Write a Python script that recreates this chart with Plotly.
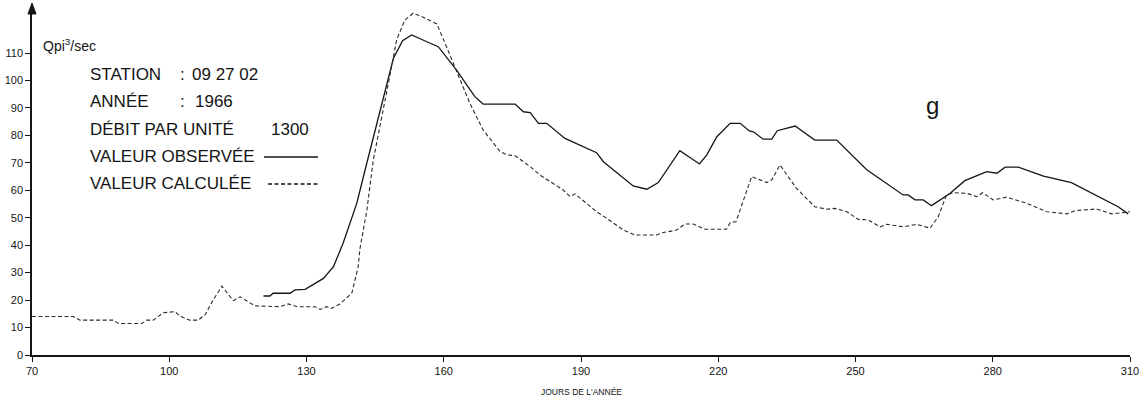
import plotly.graph_objects as go

# ---- data ----
obs_day = [120.6, 122.0, 122.7, 126.4, 127.5, 129.7, 133.7, 135.9, 138.0, 141.0, 142.8,
           149.0, 151.0, 153.0, 156.3, 158.8, 162.8, 165.4, 166.8, 168.6, 175.6, 177.4,
           178.9, 180.7, 182.5, 186.5, 193.4, 194.9, 201.4, 204.4, 206.9, 211.6, 215.9,
           217.5, 219.7, 222.6, 224.8, 226.8, 227.7, 229.8, 231.7, 232.9, 236.8, 241.1,
           245.9, 252.4, 260.4, 261.5, 263.0, 264.8, 266.6, 270.7, 273.9, 278.7, 280.9,
           282.7, 285.6, 291.1, 297.2, 307.4, 309.6]
obs_val = [21.5, 21.5, 22.5, 22.5, 23.7, 23.9, 27.9, 32.2, 40.7, 55.3, 67.4,
           108.1, 114.5, 116.6, 114.1, 112.3, 103.8, 97.7, 94.1, 91.4, 91.4, 88.6,
           88.3, 84.4, 84.4, 78.9, 73.7, 70.4, 61.6, 60.4, 62.8, 74.4, 69.6,
           72.9, 79.5, 84.4, 84.4, 81.6, 81.3, 78.6, 78.6, 81.7, 83.4, 78.3,
           78.3, 67.6, 58.3, 58.3, 56.5, 56.5, 54.4, 58.9, 63.5, 66.8, 66.2,
           68.4, 68.4, 65.2, 62.8, 54.0, 51.4]

calc_day = [70.0, 79.0, 80.5, 87.8, 88.9, 94.0, 95.1, 96.5, 98.7, 101.3, 102.3, 104.5,
            106.3, 107.8, 109.6, 111.5, 114.0, 115.5, 118.7, 124.2, 126.0, 127.9, 131.9,
            133.0, 134.3, 135.5, 137.3, 139.9, 141.3, 141.7, 143.2, 144.6, 147.9, 149.7,
            151.5, 153.3, 155.2, 158.5, 160.6, 162.8, 165.7, 168.6, 172.3, 173.8, 175.6,
            178.9, 181.0, 186.1, 187.6, 188.7, 191.2, 193.4, 195.6, 199.3, 201.8, 206.5,
            208.0, 210.9, 212.7, 214.5, 217.1, 221.8, 222.6, 223.9, 227.3, 230.6, 231.7,
            233.5, 237.1, 241.1, 243.7, 245.5, 248.1, 250.6, 252.8, 255.4, 256.8, 260.5,
            263.4, 266.3, 268.1, 269.9, 271.4, 274.3, 276.5, 277.8, 280.1, 283.0, 287.4,
            291.8, 296.2, 298.0, 302.7, 306.0, 310.0]
calc_val = [14.0, 14.0, 12.7, 12.7, 11.5, 11.5, 12.7, 12.7, 15.4, 15.8, 14.2, 12.7,
            12.7, 14.6, 20.0, 25.1, 19.8, 21.2, 17.9, 17.6, 18.6, 17.6, 17.6,
            16.6, 17.6, 17.0, 18.6, 22.5, 32.2, 38.9, 52.8, 71.0, 99.0, 114.8,
            122.0, 124.5, 123.3, 120.6, 112.3, 103.2, 91.7, 82.0, 74.1, 72.9, 72.6,
            68.6, 65.6, 60.1, 57.7, 58.7, 55.3, 52.2, 49.8, 45.5, 43.7, 43.7,
            44.6, 45.5, 47.7, 47.7, 45.8, 45.8, 48.2, 48.6, 65.0, 62.8, 63.8,
            69.2, 60.7, 54.0, 53.1, 53.4, 52.2, 49.4, 49.2, 46.7, 47.6, 46.7,
            47.6, 46.2, 50.4, 58.3, 59.1, 58.9, 57.7, 59.1, 56.5, 57.5, 55.3,
            52.2, 51.4, 52.6, 53.2, 51.4, 52.2]

x_ticks = [70, 100, 130, 160, 190, 220, 250, 280, 310]
y_ticks = [0, 10, 20, 30, 40, 50, 60, 70, 80, 90, 100, 110]

unit_label = "Qpi<sup>3</sup>/sec"
info_labels = ["STATION", "ANNÉE", "DÉBIT PAR UNITÉ", "VALEUR OBSERVÉE", "VALEUR CALCULÉE"]
info_values = ["09 27 02", "1966", "1300"]
panel_label = "g"
x_title = "JOURS DE L'ANNÉE"

W, H = 1147, 403
ML, MR, MT, MB = 32, 17, 8, 48
PW, PH = W - ML - MR, H - MT - MB


def px(x):
    return (x - ML) / PW


def py(y):
    return (H - MB - y) / PH


FONT = "Liberation Sans, Arial, sans-serif"
INK = "#151515"

fig = go.Figure()
fig.add_trace(go.Scatter(x=obs_day, y=obs_val, mode="lines", name="VALEUR OBSERVÉE",
                         line=dict(color=INK, width=1.3)))
fig.add_trace(go.Scatter(x=calc_day, y=calc_val, mode="lines", name="VALEUR CALCULÉE",
                         line=dict(color="#2a2a2a", width=1.1, dash="4px,2.5px")))

ann = []
ann.append(dict(x=px(41), y=py(45), text=unit_label, font=dict(size=14)))
rows_y = [74, 102, 129, 156, 183]
for lab, yy in zip(info_labels, rows_y):
    ann.append(dict(x=px(88), y=py(yy), text=lab, font=dict(size=17)))
ann.append(dict(x=px(178), y=py(74), text=":", font=dict(size=17)))
ann.append(dict(x=px(178), y=py(102), text=":", font=dict(size=17)))
ann.append(dict(x=px(190), y=py(74), text=info_values[0], font=dict(size=17)))
ann.append(dict(x=px(193), y=py(102), text=info_values[1], font=dict(size=17)))
ann.append(dict(x=px(269), y=py(129), text=info_values[2], font=dict(size=17)))
ann.append(dict(x=px(924), y=py(106), text=panel_label, font=dict(size=24)))
for a in ann:
    a.update(xref="paper", yref="paper", xanchor="left", yanchor="middle", showarrow=False)
    a["font"].update(family=FONT, color=INK)

ann.append(dict(x=0.5, y=py(392), xref="paper", yref="paper", text=x_title, showarrow=False,
                xanchor="center", yanchor="middle", font=dict(family=FONT, size=8.5, color=INK)))

shapes = [
    dict(type="line", xref="paper", yref="paper", x0=px(264), x1=px(318), y0=py(157), y1=py(157),
         line=dict(color=INK, width=1.3)),
    dict(type="line", xref="paper", yref="paper", x0=px(268), x1=px(318), y0=py(184), y1=py(184),
         line=dict(color=INK, width=1.3, dash="4px,2.5px")),
    # arrow head on top of the y axis
    dict(type="path", xref="paper", yref="paper", xsizemode="pixel", ysizemode="pixel",
         xanchor=0, yanchor=1, path="M -4,-6 L 4,-6 L 0,5 Z",
         fillcolor=INK, line=dict(color=INK, width=1)),
]

fig.update_layout(
    width=W, height=H,
    margin=dict(l=ML, r=MR, t=MT, b=MB, autoexpand=False),
    paper_bgcolor="white", plot_bgcolor="white",
    showlegend=False,
    annotations=ann, shapes=shapes,
    font=dict(family=FONT, color=INK),
)
fig.update_xaxes(range=[70, 310], tickvals=x_ticks, showgrid=False, zeroline=False,
                 automargin=False, ticklabeloverflow="allow",
                 showline=True, linecolor=INK, linewidth=1.5, ticks="outside", ticklen=5,
                 tickwidth=1.2, tickcolor=INK, tickfont=dict(size=11, family=FONT, color=INK))
fig.update_yaxes(range=[0, 126.4], tickvals=y_ticks, showgrid=False, zeroline=False,
                 automargin=False, ticklabeloverflow="allow",
                 showline=True, linecolor=INK, linewidth=1.5, ticks="outside", ticklen=5,
                 tickwidth=1.2, tickcolor=INK, tickfont=dict(size=11, family=FONT, color=INK))

fig.write_html("out.html", config={"displayModeBar": False},
               post_script="document.body.style.margin='0';")
